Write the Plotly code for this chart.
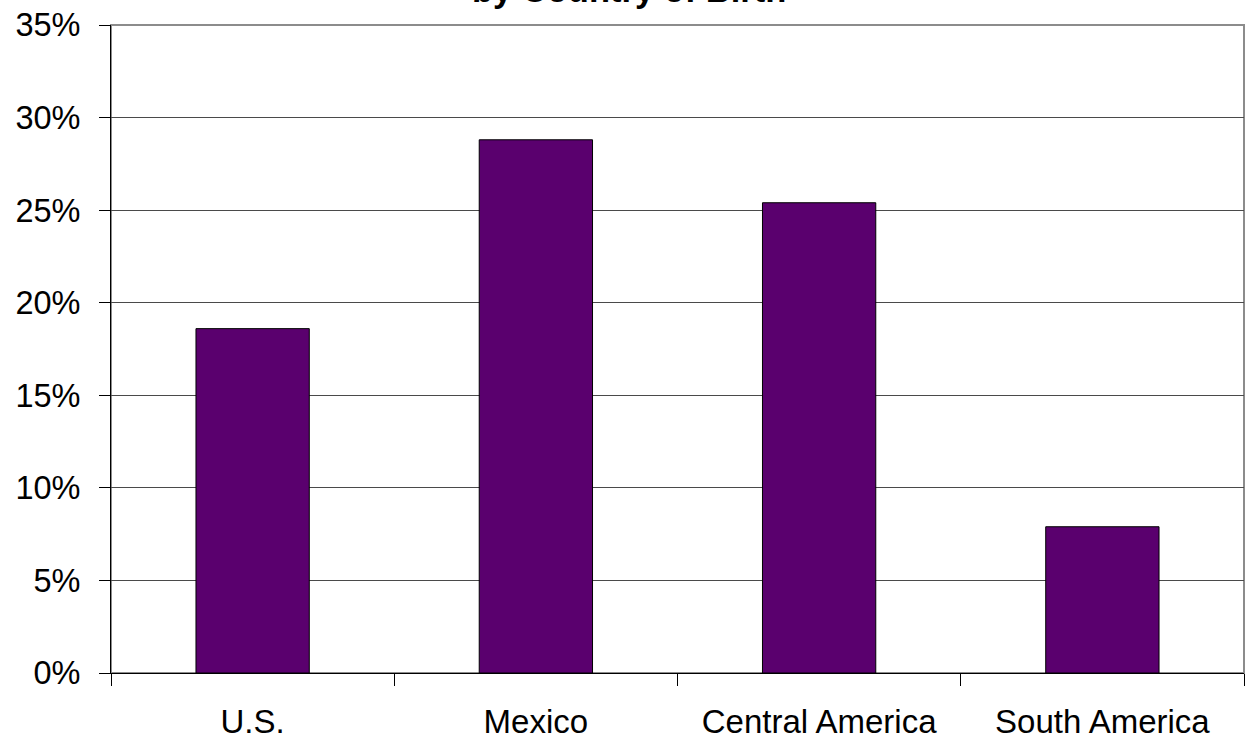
import plotly.graph_objects as go

# Share of respondents by country of birth (percent)
regions = ["U.S.", "Mexico", "Central America", "South America"]
shares = [18.6, 28.8, 25.4, 7.9]
y_ticks = [0, 5, 10, 15, 20, 25, 30, 35]
y_tick_labels = [f"{v}%" for v in y_ticks]

FONT = "Arial, Liberation Sans, sans-serif"
W, H = 1245, 742
M_L, M_R, M_T, M_B = 111, 1, 25, 69
plot_w = W - M_L - M_R
plot_h = H - M_T - M_B

fig = go.Figure(
    go.Bar(
        x=regions,
        y=shares,
        width=0.4,
        marker=dict(color="#5A006E", line=dict(color="#000000", width=1)),
        hoverinfo="x+y",
    )
)

# plot-area frame (top and right edges show in gray)
fig.add_shape(
    type="rect", xref="paper", yref="paper", x0=0, x1=1, y0=0, y1=1,
    line=dict(color="#8c8c8c", width=2), layer="below",
)

# chart title, second line partly above the page edge
fig.add_annotation(
    text="<b>by Country of Birth</b>",
    xref="paper", yref="paper",
    x=(629 - M_L) / plot_w, y=1 + (M_T + 10) / plot_h,
    xanchor="center", yanchor="middle",
    showarrow=False,
    font=dict(family=FONT, size=34.5, color="#000000"),
)

fig.update_layout(
    width=W, height=H,
    margin=dict(l=M_L, r=M_R, t=M_T, b=M_B, pad=0, autoexpand=False),
    paper_bgcolor="#ffffff",
    plot_bgcolor="#ffffff",
    showlegend=False,
    font=dict(family=FONT, size=33, color="#000000"),
    xaxis=dict(
        type="category",
        automargin=False,
        tickson="boundaries",
        ticks="outside", ticklen=12, tickwidth=1, tickcolor="#000000",
        showline=True, linecolor="#000000", linewidth=1,
        showgrid=False, zeroline=False,
        tickfont=dict(family=FONT, size=33, color="#000000"),
        ticklabelstandoff=19,
    ),
    yaxis=dict(
        range=[0, 35],
        automargin=False,
        tickvals=y_ticks, ticktext=y_tick_labels,
        ticks="outside", ticklen=11, tickwidth=1, tickcolor="#000000",
        showline=True, linecolor="#000000", linewidth=1,
        showgrid=True, gridcolor="#4a4a4a", gridwidth=1,
        zeroline=False,
        tickfont=dict(family=FONT, size=32.5, color="#000000"),
        ticklabelstandoff=12,
    ),
    bargap=0.6,
)

fig.write_html("out.html")
